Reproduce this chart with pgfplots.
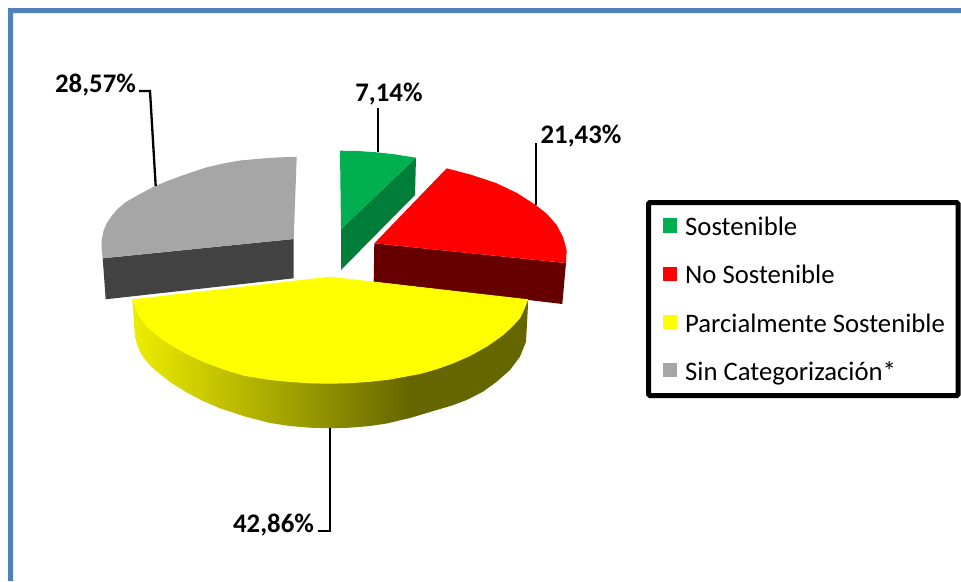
\documentclass[border=0pt]{standalone}
\usepackage{fontspec}
\setmainfont{Carlito}
\usepackage{pgfplots}
\pgfplotsset{compat=1.18}
\definecolor{band}{HTML}{4F81BD}
\definecolor{gtop}{HTML}{00B050}
\definecolor{gside}{HTML}{007E39}
\definecolor{rtop}{RGB}{255,0,0}
\definecolor{rside}{HTML}{660000}
\definecolor{ytop}{RGB}{255,255,0}
\definecolor{gytop}{HTML}{A6A6A6}
\definecolor{gyside}{HTML}{424242}
\pgfdeclarehorizontalshading{yside}{100bp}{
  rgb(0bp)=(0.93,0.93,0);
  rgb(25bp)=(0.93,0.93,0);
  rgb(60bp)=(0.4,0.4,0);
  rgb(75bp)=(0.4,0.4,0);
  rgb(100bp)=(0.4,0.4,0)}
\begin{document}
\begin{tikzpicture}
\begin{axis}[
  width=961pt,height=581pt,scale only axis,hide axis,
  xmin=0,xmax=961,ymin=0,ymax=581,y dir=reverse,clip=true,
  area legend,
  legend cell align=left,
  legend style={at={(axis cs:646,200)},anchor=north west,
    line width=5pt,draw=black,rounded corners=1.5pt,fill=white,
    font=\fontsize{26.7}{28}\selectfont,
    inner xsep=9.8pt,inner ysep=12.75pt,row sep=25.2pt,
    nodes={inner xsep=3.5pt,inner ysep=1pt,text height=19.5pt,text depth=1.5pt}},
  legend image code/.code={\path (0pt,0pt) (23.4pt,0pt);\fill[#1,draw=none,sharp corners] (4.3pt,-6pt) rectangle (18.7pt,8.4pt);},
]
% page background, fixes the picture's extent
\addplot[forget plot,fill=white,draw=none] coordinates {(0,0)(961,0)(961,581)(0,581)} -- cycle;
% frame band
\addplot[forget plot,fill=band,draw=none] coordinates {(8,8)(961,8)(961,13)(13,13)(13,581)(8,581)} -- cycle;
% green
\addplot[forget plot,fill=gside,draw=none] coordinates {(341,229)(341,270)(415,195)(416,157.7)} -- cycle;
\addplot[fill=gtop,draw=none] coordinates {(340,150.7)(358,151)(376.7,152.3)(396,154.5)(416,157.7)(341,229)} -- cycle;
\addlegendentry{Sostenible}
% red
\addplot[forget plot,fill=rside,draw=none] coordinates {(374.3,243.3)(373.7,281.7)(562.3,304)(566,263)} -- cycle;
\addplot[fill=rtop,draw=none] coordinates {(446.7,168.3)(472,175)(496.7,183.3)(517,193)(535.7,205)(547,214)(556.7,225)(563,237)(566.7,250)(566,263)(374.3,243.3)} -- cycle;
\addlegendentry{No Sostenible}
% yellow
\addplot[forget plot,shade,shading=yside,draw=none] coordinates {(132.3,299.3)(135,336.7)(137.5,346)(141.7,355)(148,363)(155,370)(170,382)(186.7,392.5)(203,401)(220,408.3)(245,416.5)(270,423)(290,426)(310,427.7)(330,428.3)(350,427.7)(370,426)(386.7,423.5)(410,418)(436.7,410)(452,405.5)(466.7,400)(483,391.7)(496.7,381.7)(510,370)(520,356.7)(526,341.7)(528.3,299.3)} -- cycle;
\addplot[fill=ytop,draw=none] coordinates {(330,276.7)(528.3,299.3)(524,310)(520,318.3)(512,327)(503.3,335)(495,341)(486.7,346.7)(470,356)(453.3,363.3)(436.7,369.3)(420,374)(390,379.5)(370,381.8)(350,383.2)(330,383.7)(310,383.3)(290,382)(270,380)(245,376)(225,370)(205,362.7)(185,353.3)(165,341.7)(148.3,328.3)(138.3,315)(132.3,299.3)} -- cycle;
\addlegendentry{Parcialmente Sostenible}
% grey
\addplot[forget plot,fill=gyside,draw=none] coordinates {(102.7,258.3)(105.7,299.3)(293.7,278.3)(293.7,239)} -- cycle;
\addplot[fill=gytop,draw=none] coordinates {(102.7,258.3)(101.7,250)(101.7,240)(103.5,231)(106.7,223.3)(112,215.5)(118.3,208.3)(126,202)(135,196.7)(155,186)(170,180)(185,174.5)(206,167.5)(223,163.5)(240,160.5)(256.7,159)(276,157.5)(296.7,156.7)(293.7,239)} -- cycle;
\addlegendentry{Sin Categorización*}
% leaders
\addplot[forget plot,black,line width=2.3pt] coordinates {(139,91)(150,91)(155.7,186)};
\addplot[forget plot,black,line width=2.3pt] coordinates {(377.7,108.3)(377.7,151.7)};
\addplot[forget plot,black,line width=2.3pt] coordinates {(535.7,143.3)(535.7,205)};
\addplot[forget plot,black,line width=2.3pt] coordinates {(330,428.3)(330,530.7)(318.3,530.7)};
% labels
\node[font=\fontsize{26.8}{28}\selectfont\bfseries,inner sep=0pt] at (axis cs:95.5,85) {28,57\%};
\node[font=\fontsize{26.8}{28}\selectfont\bfseries,inner sep=0pt] at (axis cs:389,94) {7,14\%};
\node[font=\fontsize{26.8}{28}\selectfont\bfseries,inner sep=0pt] at (axis cs:581,136) {21,43\%};
\node[font=\fontsize{26.8}{28}\selectfont\bfseries,inner sep=0pt] at (axis cs:273.5,525) {42,86\%};
\end{axis}
\end{tikzpicture}
\end{document}
